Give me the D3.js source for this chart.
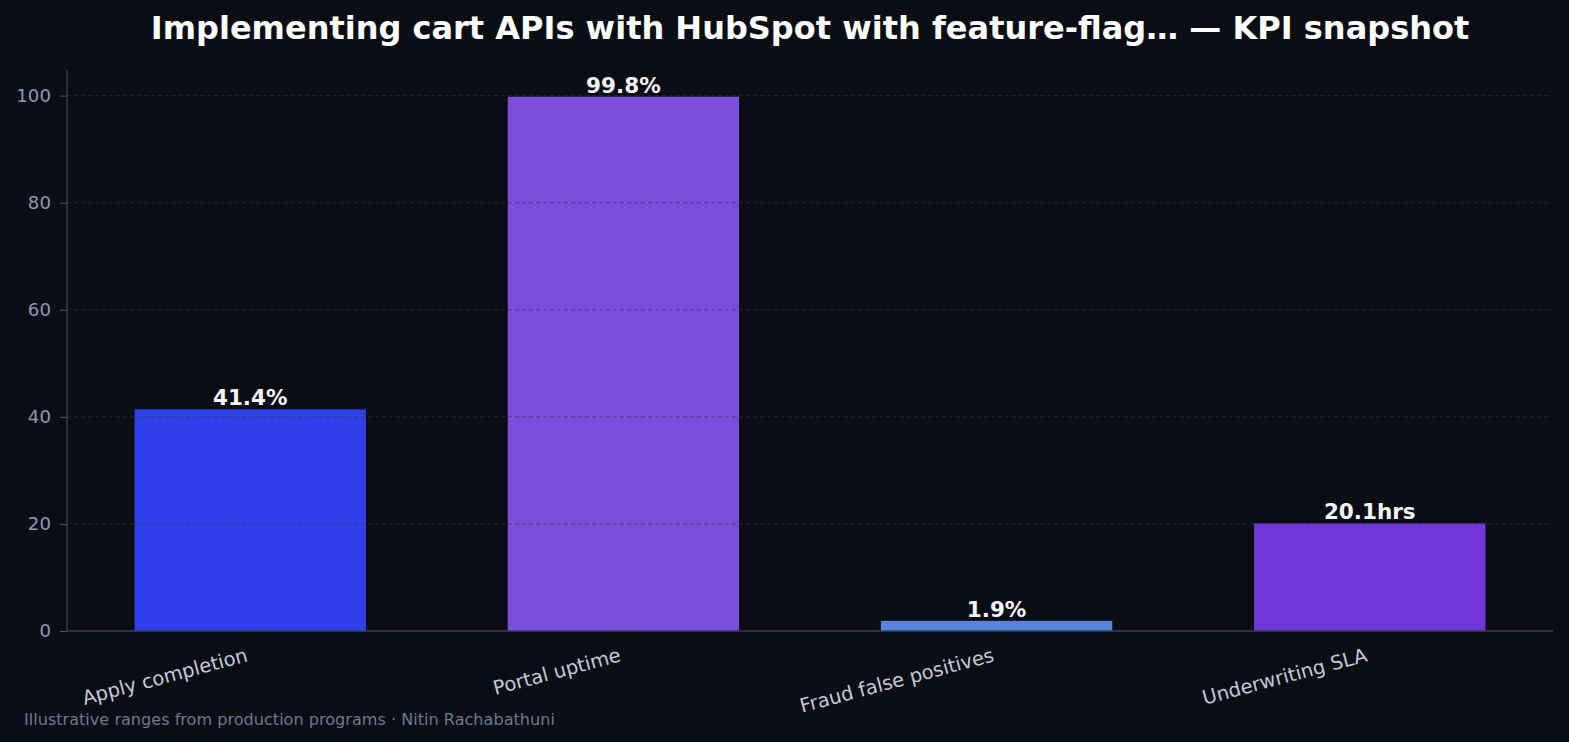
<!DOCTYPE html>
<html><head><meta charset="utf-8">
<script src="https://cdn.jsdelivr.net/npm/d3@7"></script>
<style>
html,body{margin:0;padding:0;background:#0a0d14;}
svg{display:block;font-family:"DejaVu Sans",sans-serif;}
</style></head>
<body>
<svg id="chart" width="1569" height="742"></svg>
<script>
const categories = ["Apply completion", "Portal uptime", "Fraud false positives", "Underwriting SLA"];
const values = [41.4, 99.8, 1.9, 20.1];
const valueLabels = ["41.4%", "99.8%", "1.9%", "20.1hrs"];
const barColors = ["#2f40ea", "#7f4ddc", "#5686dc", "#7236d8"];
const yTicks = [0, 20, 40, 60, 80, 100];
const title = "Implementing cart APIs with HubSpot with feature-flag\u2026 \u2014 KPI snapshot";
const footnote = "Illustrative ranges from production programs \u00b7 Nitin Rachabathuni";

const W = 1569, H = 742;
const m = {left: 67, right: 1553, top: 70, bottom: 631};
const svg = d3.select("#chart");
svg.append("rect").attr("width", W).attr("height", H).attr("fill", "#0a0d14");

const barW = 0.62;
const x = d3.scaleLinear().domain([-0.491, 3.491]).range([m.left, m.right]);
const y = d3.scaleLinear().domain([0, d3.max(values) * 1.05]).range([m.bottom, m.top]);

// bars
svg.append("g").selectAll("rect").data(values).join("rect")
  .attr("x", (d, i) => x(i - barW / 2))
  .attr("width", (d, i) => x(i + barW / 2) - x(i - barW / 2))
  .attr("y", d => y(d))
  .attr("height", d => y(0) - y(d))
  .attr("fill", (d, i) => barColors[i]);

// grid (drawn above bars)
svg.append("g").selectAll("line").data(yTicks.filter(t => t > 0)).join("line")
  .attr("x1", m.left).attr("x2", m.right)
  .attr("y1", d => y(d)).attr("y2", d => y(d))
  .attr("stroke", "#2c3549").attr("stroke-opacity", 0.65)
  .attr("stroke-width", 1).attr("stroke-dasharray", "4,3");

// y axis
const yAxis = svg.append("g").attr("transform", `translate(${m.left},0)`)
  .call(d3.axisLeft(y).tickValues(yTicks).tickSize(7).tickPadding(9).tickFormat(d3.format("d")));
yAxis.select(".domain").remove();
yAxis.selectAll(".tick line").attr("stroke", "#4a5568");
yAxis.selectAll(".tick text").attr("fill", "#8a9ab0").attr("font-size", 18.2)
  .attr("font-family", "DejaVu Sans");
svg.append("line").attr("x1", m.left).attr("x2", m.left).attr("y1", m.top).attr("y2", m.bottom)
  .attr("stroke", "#334155").attr("stroke-width", 1.3);

// x axis
const xAxis = svg.append("g").attr("transform", `translate(0,${m.bottom})`)
  .call(d3.axisBottom(x).tickValues(d3.range(categories.length)).tickSize(6).tickFormat(i => categories[i]));
xAxis.select(".domain").remove();
xAxis.selectAll(".tick line").attr("stroke", "#05070b");
xAxis.selectAll(".tick text")
  .attr("fill", "#c3cad8").attr("font-size", 19.5).attr("font-family", "DejaVu Sans")
  .attr("text-anchor", "end").attr("dy", null).attr("y", 0)
  .attr("transform", "translate(-2,30) rotate(-15)");
svg.append("line").attr("x1", m.left).attr("x2", m.right).attr("y1", m.bottom).attr("y2", m.bottom)
  .attr("stroke", "#334155").attr("stroke-width", 1.3);

// value labels
svg.append("g").selectAll("text").data(values).join("text")
  .attr("x", (d, i) => x(i))
  .attr("y", d => y(d) - 4)
  .attr("text-anchor", "middle")
  .attr("fill", "#f4f6fa").attr("font-size", 21.5).attr("font-weight", "bold")
  .text((d, i) => valueLabels[i]);

// title
svg.append("text").attr("x", 810).attr("y", 39).attr("text-anchor", "middle")
  .attr("fill", "#ffffff").attr("font-size", 32).attr("font-weight", "bold").text(title);

// footnote
svg.append("text").attr("x", 24).attr("y", 725)
  .attr("fill", "#6b7a90").attr("font-size", 16.1).text(footnote);
</script>
</body></html>
